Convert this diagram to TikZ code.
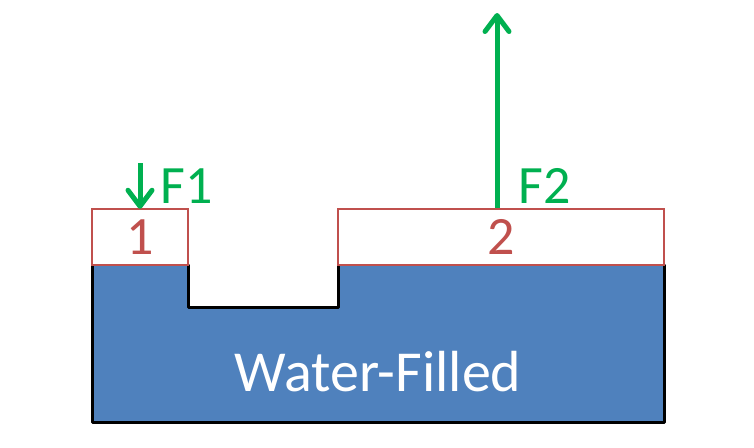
\documentclass[tikz,border=0pt]{standalone}
\usepackage{fontspec}
\setmainfont{Carlito}
\usetikzlibrary{arrows.meta,positioning}
\definecolor{water}{HTML}{4F81BD}
\definecolor{plate}{HTML}{C0504D}
\definecolor{force}{HTML}{00B050}

\begin{document}
\begin{tikzpicture}[x=1pt,y=-1pt,
 platebox/.style={draw=plate,line width=2.5pt,fill=white,text=plate,minimum height=56pt,inner sep=0pt,font=\fontsize{54}{60}\selectfont},
 forcearr/.style={force,line width=5pt,-{Straight Barb[length=16pt,width=24pt,line cap=round,line join=round]}},
 forcelbl/.style={text=force,inner sep=0pt,font=\fontsize{54}{60}\selectfont},
 wall/.style={line width=3pt,line cap=round,line join=round}]
\useasboundingbox (0,0) rectangle (754,447);
% water-filled body with notch
\fill[water] (92,265) -- (188,265) -- (188,307) -- (338,307) -- (338,265) -- (664,265) -- (664,422) -- (92,422) -- cycle;
\draw[wall] (92,265) -- (92,422) -- (664,422) -- (664,265);
\draw[wall] (188,265) |- (338,307) -- (338,265);
\node[text=white,font=\fontsize{58}{64}\selectfont] (fill) at (378,372) {Water-Filled};
% plates
\node[platebox,minimum width=96pt] (p1) at (140,237) {1};
\node[platebox,minimum width=326pt] (p2) at (501,237) {2};
% forces
\coordinate (f1top) at (140,163);
\coordinate (f2top) at (497,13);
\draw[forcearr] (f1top) -- ([yshift=-1pt]p1.north);
\draw[forcearr] (f2top |- p2.north) -- (f2top);
\node[forcelbl] (f1) at (187,186) {F1};
\node[forcelbl] (f2) at (545,186) {F2};
\end{tikzpicture}
\end{document}
